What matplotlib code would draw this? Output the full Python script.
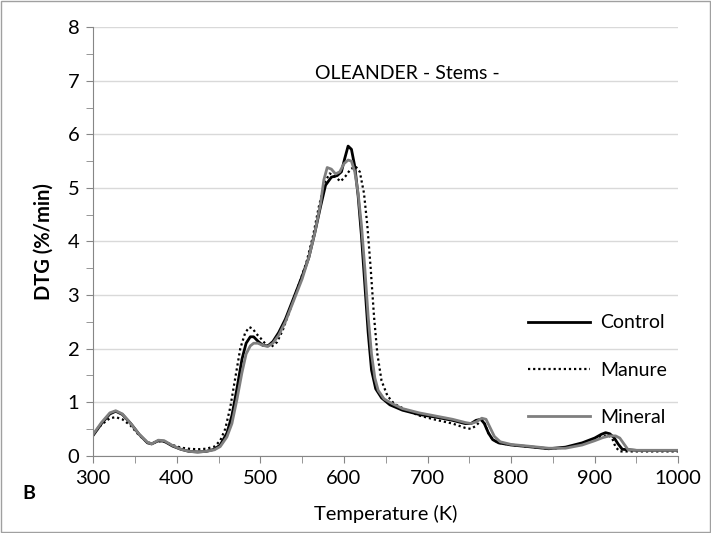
import matplotlib.pyplot as plt
from matplotlib.patches import Rectangle
from matplotlib.ticker import MultipleLocator

# temperature (K) and DTG (%/min)
control_t = [300, 310, 320, 327, 335, 345, 355, 365, 370, 378, 385, 395, 405, 415, 425, 435, 445, 452,
             460, 466, 472, 478, 483, 488, 492, 497, 503, 509, 515, 522, 530, 540, 550, 558, 565, 572,
             578, 585, 592, 597, 601, 605, 609, 613, 617, 621, 625, 629, 633, 638, 645, 655, 670, 690,
             710, 730, 745, 752, 758, 764, 768, 773, 778, 785, 800, 820, 845, 865, 885, 900, 908, 913,
             918, 923, 928, 933, 950, 1000]
control_v = [0.38, 0.6, 0.78, 0.83, 0.77, 0.6, 0.4, 0.24, 0.22, 0.28, 0.27, 0.18, 0.12, 0.08, 0.07, 0.08, 0.12, 0.2,
             0.42, 0.75, 1.25, 1.8, 2.1, 2.22, 2.22, 2.14, 2.06, 2.05, 2.13, 2.3, 2.55, 2.95, 3.35, 3.7, 4.15, 4.65,
             5.05, 5.2, 5.23, 5.3, 5.55, 5.78, 5.72, 5.4, 4.85, 4.1, 3.2, 2.3, 1.6, 1.25, 1.08, 0.95, 0.85, 0.77,
             0.72, 0.66, 0.6, 0.6, 0.66, 0.68, 0.6, 0.42, 0.3, 0.24, 0.2, 0.17, 0.13, 0.16, 0.24, 0.33, 0.4, 0.43,
             0.41, 0.34, 0.22, 0.12, 0.1, 0.1]

manure_t = [300, 310, 320, 327, 335, 345, 355, 365, 370, 378, 385, 395, 405, 415, 425, 435, 445, 452,
            458, 464, 470, 476, 482, 487, 491, 495, 500, 507, 513, 520, 527, 535, 545, 555, 563, 570,
            577, 583, 590, 596, 602, 608, 614, 619, 624, 628, 632, 636, 640, 645, 652, 660, 675, 690,
            710, 730, 745, 752, 758, 764, 768, 773, 778, 785, 800, 820, 845, 865, 885, 900, 910, 917,
            921, 925, 930, 950, 1000]
manure_v = [0.4, 0.58, 0.7, 0.72, 0.68, 0.56, 0.38, 0.25, 0.23, 0.27, 0.26, 0.2, 0.15, 0.13, 0.12, 0.13, 0.17, 0.28,
            0.5, 0.9, 1.45, 2.0, 2.3, 2.4, 2.37, 2.28, 2.2, 2.07, 2.03, 2.12, 2.35, 2.7, 3.15, 3.6, 4.1, 4.65,
            5.1, 5.27, 5.2, 5.12, 5.22, 5.35, 5.4, 5.3, 4.9, 4.3, 3.5, 2.6, 1.9, 1.4, 1.12, 0.97, 0.85, 0.75,
            0.67, 0.6, 0.52, 0.5, 0.56, 0.66, 0.62, 0.42, 0.3, 0.24, 0.2, 0.17, 0.13, 0.15, 0.22, 0.3, 0.37, 0.38,
            0.32, 0.16, 0.08, 0.08, 0.08]

mineral_t = [300, 310, 320, 327, 335, 345, 355, 365, 370, 378, 385, 395, 405, 415, 425, 435, 445, 452,
             460, 466, 472, 478, 483, 488, 492, 497, 503, 509, 515, 522, 530, 540, 550, 558, 565, 572,
             576, 580, 585, 590, 595, 600, 605, 609, 613, 617, 621, 625, 629, 633, 637, 641, 648, 658,
             670, 690, 710, 730, 745, 752, 758, 765, 770, 775, 780, 787, 800, 820, 845, 865, 885, 900,
             910, 918, 925, 930, 935, 940, 950, 1000]
mineral_v = [0.4, 0.62, 0.8, 0.84, 0.78, 0.6, 0.4, 0.25, 0.22, 0.29, 0.28, 0.19, 0.12, 0.08, 0.07, 0.08, 0.11, 0.17,
             0.35, 0.6, 1.05, 1.55, 1.9, 2.05, 2.1, 2.1, 2.06, 2.04, 2.1, 2.25, 2.5, 2.9, 3.3, 3.7, 4.15, 4.7,
             5.15, 5.38, 5.35, 5.26, 5.3, 5.45, 5.52, 5.5, 5.3, 4.9, 4.3, 3.5, 2.6, 1.9, 1.45, 1.22, 1.06, 0.97,
             0.88, 0.8, 0.74, 0.68, 0.62, 0.6, 0.63, 0.7, 0.68, 0.52, 0.36, 0.26, 0.21, 0.18, 0.14, 0.14, 0.2, 0.28,
             0.34, 0.37, 0.37, 0.33, 0.22, 0.11, 0.1, 0.1]

#
# figure
#
plt.rcParams['font.family'] = ['Lato', 'DejaVu Sans']

fig = plt.figure(figsize=(7.11, 5.33), dpi=100)
ax = fig.add_axes([0.131, 0.145, 0.823, 0.804])

ax.plot(control_t, control_v, color='black', linewidth=2.0, label='Control')
ax.plot(manure_t, manure_v, color='black', linewidth=1.6, linestyle=(0, (1, 1.3)), label='Manure')
ax.plot(mineral_t, mineral_v, color='#7f7f7f', linewidth=2.0, label='Mineral')

ax.set_xlim(300, 1000)
ax.set_ylim(0, 8)
ax.xaxis.set_major_locator(MultipleLocator(100))
ax.xaxis.set_minor_locator(MultipleLocator(50))
ax.yaxis.set_major_locator(MultipleLocator(1))
ax.yaxis.set_minor_locator(MultipleLocator(0.5))
ax.grid(axis='y', which='major', color='#d9d9d9', linewidth=1.0)
ax.set_axisbelow(True)

for side in ['top', 'right']:
    ax.spines[side].set_visible(False)
for side in ['left', 'bottom']:
    ax.spines[side].set_color('#868686')
ax.tick_params(axis='both', which='both', color='#868686', length=5, direction='out', labelsize=14.5, pad=5)

ax.set_xlabel('Temperature (K)', fontsize=14.5, labelpad=13)
ax.set_ylabel('DTG (%/min)', fontsize=14.5, fontweight='bold', labelpad=10)

ax.text(0.537, 0.893, 'OLEANDER - Stems -', transform=ax.transAxes, ha='center', va='center', fontsize=14)

ax.legend(loc='center right', bbox_to_anchor=(1.01, 0.2), frameon=False, fontsize=14,
          handlelength=3.2, labelspacing=1.55, handletextpad=0.5)

fig.text(0.04, 0.075, 'B', fontsize=14, fontweight='bold', ha='center', va='center')

fig.patches.append(Rectangle((0.002, 0.002), 0.996, 0.996, transform=fig.transFigure,
                             fill=False, edgecolor='#a0a0a0', linewidth=1.0))

fig.savefig('out.png', dpi=100)
